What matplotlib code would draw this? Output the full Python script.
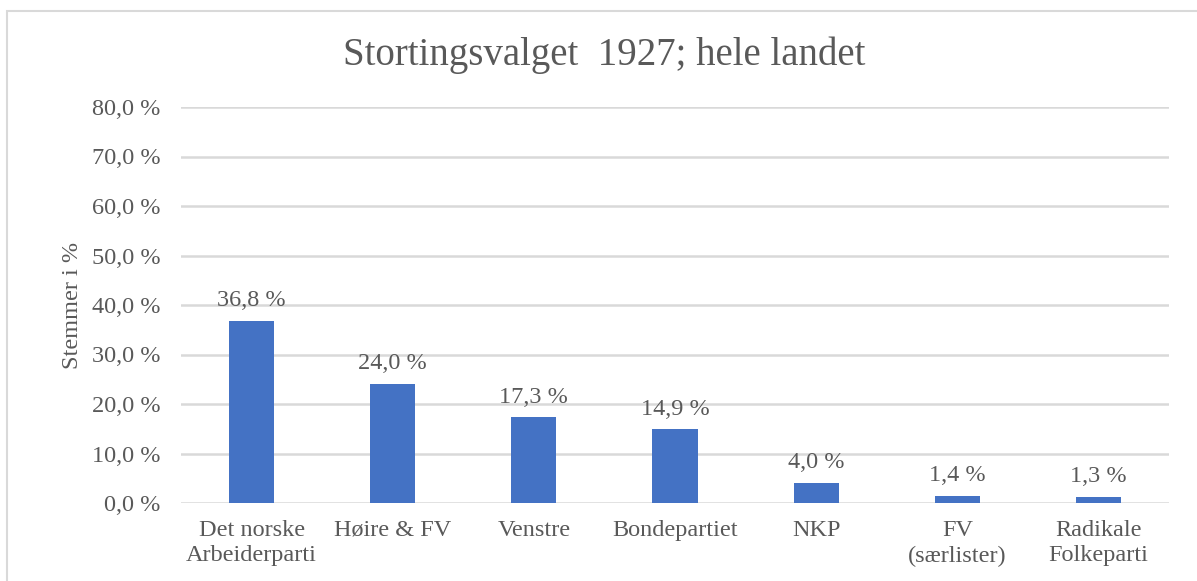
import matplotlib.pyplot as plt
from matplotlib.patches import Rectangle
from matplotlib.ticker import FuncFormatter

parties = ["Det norske\nArbeiderparti", "Høire & FV", "Venstre", "Bondepartiet",
           "NKP", "FV\n(særlister)", "Radikale\nFolkeparti"]
votes = [36.8, 24.0, 17.3, 14.9, 4.0, 1.4, 1.3]
y_ticks = [0, 10, 20, 30, 40, 50, 60, 70, 80]

plt.rcParams['font.family'] = ['Liberation Serif', 'DejaVu Serif']
grey = '#595959'
W, H = 1197, 581
fs = 17.5

fig = plt.figure(figsize=(W / 100, H / 100), dpi=100)
ax = fig.add_axes([181 / W, 1 - 503 / H, (1169 - 181) / W, (503 - 107) / H])

# chart border (cut off on right and bottom like the screenshot)
fig.patches.append(Rectangle((7 / W, -0.05), 1.1, 1 - 11 / H + 0.05,
                             transform=fig.transFigure, fill=False,
                             edgecolor='#D9D9D9', linewidth=1.5))

x = range(len(parties))
bars = ax.bar(x, votes, width=0.32, color='#4472C4', zorder=3)
for b, v in zip(bars, votes):
    ax.annotate(f"{v:.1f} %".replace('.', ','), (b.get_x() + b.get_width() / 2, v),
                xytext=(0, 7), textcoords='offset points', ha='center', va='bottom',
                fontsize=fs, color=grey)

ax.set_xlim(-0.5, len(parties) - 0.5)
ax.set_ylim(0, 80)
ax.set_yticks(y_ticks)
ax.yaxis.set_major_formatter(FuncFormatter(lambda v, p: f"{v:.1f} %".replace('.', ',')))
ax.set_xticks(list(x))
ax.set_xticklabels(parties, fontsize=fs, color=grey, linespacing=1.3)
ax.tick_params(axis='y', labelsize=fs, labelcolor=grey, length=0, pad=15)
ax.tick_params(axis='x', length=0, pad=12)
ax.grid(axis='y', color='#D9D9D9', linewidth=1.8, zorder=0)
for s in ax.spines.values():
    s.set_visible(False)

ax.set_ylabel("Stemmer i %", fontsize=fs, color=grey, labelpad=6)
fig.text(604 / W, 1 - 55 / H, "Stortingsvalget  1927; hele landet", ha='center', va='center',
         fontsize=28, color=grey)

fig.savefig("out.png", dpi=100)
